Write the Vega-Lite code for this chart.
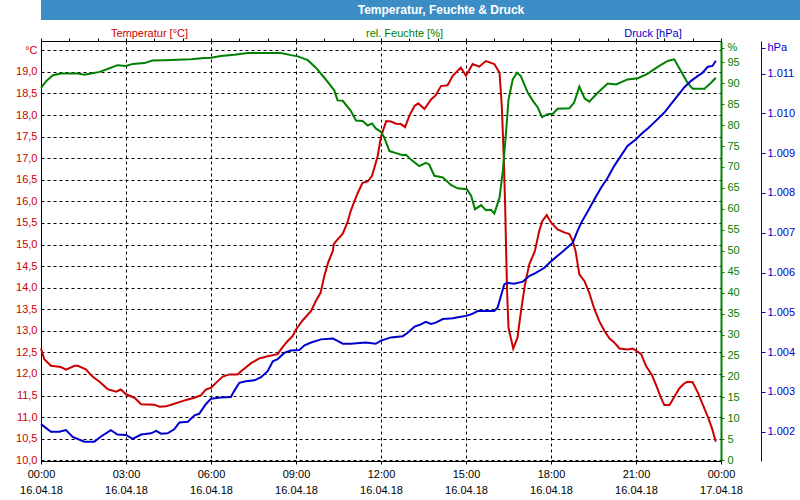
{
  "$schema": "https://vega.github.io/schema/vega-lite/v6.json",
  "padding": 0,
  "spacing": 6,
  "align": "none",
  "background": "white",
  "config": {
    "font": "Liberation Sans",
    "view": {"stroke": null}
  },
  "datasets": {
    "temp": [
      {"t": "2018-04-16T00:00", "v": 12.59}, {"t": "2018-04-16T00:07", "v": 12.34}, {"t": "2018-04-16T00:21", "v": 12.19},
      {"t": "2018-04-16T00:42", "v": 12.16}, {"t": "2018-04-16T00:53", "v": 12.10}, {"t": "2018-04-16T01:11", "v": 12.19},
      {"t": "2018-04-16T01:18", "v": 12.19}, {"t": "2018-04-16T01:35", "v": 12.11}, {"t": "2018-04-16T01:49", "v": 11.94},
      {"t": "2018-04-16T02:04", "v": 11.82}, {"t": "2018-04-16T02:21", "v": 11.65}, {"t": "2018-04-16T02:39", "v": 11.59},
      {"t": "2018-04-16T02:49", "v": 11.64}, {"t": "2018-04-16T03:00", "v": 11.53}, {"t": "2018-04-16T03:18", "v": 11.45},
      {"t": "2018-04-16T03:32", "v": 11.30}, {"t": "2018-04-16T04:00", "v": 11.29}, {"t": "2018-04-16T04:11", "v": 11.24},
      {"t": "2018-04-16T04:25", "v": 11.25}, {"t": "2018-04-16T04:39", "v": 11.30}, {"t": "2018-04-16T04:56", "v": 11.36},
      {"t": "2018-04-16T05:11", "v": 11.41}, {"t": "2018-04-16T05:25", "v": 11.45}, {"t": "2018-04-16T05:39", "v": 11.51},
      {"t": "2018-04-16T05:49", "v": 11.64}, {"t": "2018-04-16T06:00", "v": 11.68}, {"t": "2018-04-16T06:11", "v": 11.80},
      {"t": "2018-04-16T06:25", "v": 11.94}, {"t": "2018-04-16T06:39", "v": 11.99}, {"t": "2018-04-16T06:56", "v": 11.99},
      {"t": "2018-04-16T07:07", "v": 12.09}, {"t": "2018-04-16T07:25", "v": 12.25}, {"t": "2018-04-16T07:42", "v": 12.36},
      {"t": "2018-04-16T08:00", "v": 12.41}, {"t": "2018-04-16T08:21", "v": 12.46}, {"t": "2018-04-16T08:28", "v": 12.57},
      {"t": "2018-04-16T08:42", "v": 12.76}, {"t": "2018-04-16T08:53", "v": 12.88}, {"t": "2018-04-16T09:00", "v": 13.03},
      {"t": "2018-04-16T09:14", "v": 13.24}, {"t": "2018-04-16T09:32", "v": 13.46}, {"t": "2018-04-16T09:42", "v": 13.69},
      {"t": "2018-04-16T09:52", "v": 13.88}, {"t": "2018-04-16T10:00", "v": 14.27}, {"t": "2018-04-16T10:08", "v": 14.58},
      {"t": "2018-04-16T10:18", "v": 14.85}, {"t": "2018-04-16T10:20", "v": 15.01}, {"t": "2018-04-16T10:25", "v": 15.08},
      {"t": "2018-04-16T10:39", "v": 15.25}, {"t": "2018-04-16T10:49", "v": 15.51}, {"t": "2018-04-16T10:56", "v": 15.78},
      {"t": "2018-04-16T11:04", "v": 16.01}, {"t": "2018-04-16T11:11", "v": 16.20}, {"t": "2018-04-16T11:21", "v": 16.43},
      {"t": "2018-04-16T11:32", "v": 16.46}, {"t": "2018-04-16T11:41", "v": 16.59}, {"t": "2018-04-16T11:46", "v": 16.78},
      {"t": "2018-04-16T11:53", "v": 17.05}, {"t": "2018-04-16T12:00", "v": 17.50}, {"t": "2018-04-16T12:11", "v": 17.86},
      {"t": "2018-04-16T12:21", "v": 17.85}, {"t": "2018-04-16T12:32", "v": 17.80}, {"t": "2018-04-16T12:42", "v": 17.79},
      {"t": "2018-04-16T12:51", "v": 17.72}, {"t": "2018-04-16T13:00", "v": 17.98}, {"t": "2018-04-16T13:11", "v": 18.21},
      {"t": "2018-04-16T13:19", "v": 18.27}, {"t": "2018-04-16T13:32", "v": 18.14}, {"t": "2018-04-16T13:46", "v": 18.36},
      {"t": "2018-04-16T13:56", "v": 18.46}, {"t": "2018-04-16T14:07", "v": 18.67}, {"t": "2018-04-16T14:21", "v": 18.69},
      {"t": "2018-04-16T14:32", "v": 18.91}, {"t": "2018-04-16T14:49", "v": 19.10}, {"t": "2018-04-16T15:00", "v": 18.91},
      {"t": "2018-04-16T15:14", "v": 19.18}, {"t": "2018-04-16T15:28", "v": 19.12}, {"t": "2018-04-16T15:42", "v": 19.25},
      {"t": "2018-04-16T16:00", "v": 19.18}, {"t": "2018-04-16T16:11", "v": 18.98}, {"t": "2018-04-16T16:16", "v": 18.17},
      {"t": "2018-04-16T16:20", "v": 17.01}, {"t": "2018-04-16T16:23", "v": 15.86}, {"t": "2018-04-16T16:25", "v": 14.85},
      {"t": "2018-04-16T16:27", "v": 13.92}, {"t": "2018-04-16T16:30", "v": 13.07}, {"t": "2018-04-16T16:40", "v": 12.59},
      {"t": "2018-04-16T16:49", "v": 12.84}, {"t": "2018-04-16T16:56", "v": 13.42}, {"t": "2018-04-16T17:05", "v": 14.08},
      {"t": "2018-04-16T17:14", "v": 14.54}, {"t": "2018-04-16T17:26", "v": 14.85}, {"t": "2018-04-16T17:35", "v": 15.31},
      {"t": "2018-04-16T17:42", "v": 15.55}, {"t": "2018-04-16T17:51", "v": 15.68}, {"t": "2018-04-16T18:00", "v": 15.51},
      {"t": "2018-04-16T18:14", "v": 15.35}, {"t": "2018-04-16T18:28", "v": 15.28}, {"t": "2018-04-16T18:39", "v": 15.24},
      {"t": "2018-04-16T18:46", "v": 15.08}, {"t": "2018-04-16T18:52", "v": 14.85}, {"t": "2018-04-16T19:00", "v": 14.31},
      {"t": "2018-04-16T19:11", "v": 14.15}, {"t": "2018-04-16T19:21", "v": 13.88}, {"t": "2018-04-16T19:32", "v": 13.50},
      {"t": "2018-04-16T19:42", "v": 13.23}, {"t": "2018-04-16T19:53", "v": 13.00}, {"t": "2018-04-16T20:04", "v": 12.82},
      {"t": "2018-04-16T20:14", "v": 12.73}, {"t": "2018-04-16T20:25", "v": 12.59}, {"t": "2018-04-16T20:42", "v": 12.57},
      {"t": "2018-04-16T20:53", "v": 12.59}, {"t": "2018-04-16T21:11", "v": 12.46}, {"t": "2018-04-16T21:21", "v": 12.19},
      {"t": "2018-04-16T21:33", "v": 11.99}, {"t": "2018-04-16T21:42", "v": 11.76}, {"t": "2018-04-16T21:52", "v": 11.47},
      {"t": "2018-04-16T22:00", "v": 11.28}, {"t": "2018-04-16T22:11", "v": 11.28}, {"t": "2018-04-16T22:20", "v": 11.45},
      {"t": "2018-04-16T22:32", "v": 11.67}, {"t": "2018-04-16T22:42", "v": 11.78}, {"t": "2018-04-16T22:49", "v": 11.82},
      {"t": "2018-04-16T23:00", "v": 11.81}, {"t": "2018-04-16T23:11", "v": 11.57}, {"t": "2018-04-16T23:21", "v": 11.30},
      {"t": "2018-04-16T23:32", "v": 11.01}, {"t": "2018-04-16T23:41", "v": 10.74}, {"t": "2018-04-16T23:49", "v": 10.43}
    ],
    "hum": [
      {"t": "2018-04-16T00:00", "v": 88.9}, {"t": "2018-04-16T00:11", "v": 90.5}, {"t": "2018-04-16T00:25", "v": 91.9},
      {"t": "2018-04-16T00:42", "v": 92.3}, {"t": "2018-04-16T01:18", "v": 92.3}, {"t": "2018-04-16T01:32", "v": 92.0},
      {"t": "2018-04-16T01:46", "v": 92.3}, {"t": "2018-04-16T02:04", "v": 92.7}, {"t": "2018-04-16T02:21", "v": 93.4},
      {"t": "2018-04-16T02:42", "v": 94.3}, {"t": "2018-04-16T03:00", "v": 94.1}, {"t": "2018-04-16T03:14", "v": 94.6},
      {"t": "2018-04-16T03:39", "v": 94.8}, {"t": "2018-04-16T03:56", "v": 95.4}, {"t": "2018-04-16T04:21", "v": 95.5},
      {"t": "2018-04-16T05:18", "v": 95.7}, {"t": "2018-04-16T05:46", "v": 96.0}, {"t": "2018-04-16T06:00", "v": 96.1},
      {"t": "2018-04-16T06:21", "v": 96.5}, {"t": "2018-04-16T06:49", "v": 96.8}, {"t": "2018-04-16T07:18", "v": 97.2},
      {"t": "2018-04-16T08:28", "v": 97.2}, {"t": "2018-04-16T08:49", "v": 96.7}, {"t": "2018-04-16T09:04", "v": 96.4},
      {"t": "2018-04-16T09:25", "v": 95.5}, {"t": "2018-04-16T09:42", "v": 93.7}, {"t": "2018-04-16T10:00", "v": 91.3},
      {"t": "2018-04-16T10:21", "v": 88.3}, {"t": "2018-04-16T10:28", "v": 85.9}, {"t": "2018-04-16T10:39", "v": 85.8},
      {"t": "2018-04-16T10:56", "v": 83.4}, {"t": "2018-04-16T11:07", "v": 81.1}, {"t": "2018-04-16T11:21", "v": 81.0},
      {"t": "2018-04-16T11:32", "v": 79.9}, {"t": "2018-04-16T11:41", "v": 80.4}, {"t": "2018-04-16T11:49", "v": 79.2},
      {"t": "2018-04-16T12:00", "v": 78.4}, {"t": "2018-04-16T12:07", "v": 77.0}, {"t": "2018-04-16T12:18", "v": 73.8},
      {"t": "2018-04-16T12:32", "v": 73.3}, {"t": "2018-04-16T12:46", "v": 72.8}, {"t": "2018-04-16T12:53", "v": 72.9},
      {"t": "2018-04-16T13:04", "v": 71.7}, {"t": "2018-04-16T13:21", "v": 70.2}, {"t": "2018-04-16T13:35", "v": 71.0},
      {"t": "2018-04-16T13:42", "v": 70.6}, {"t": "2018-04-16T13:53", "v": 67.9}, {"t": "2018-04-16T14:11", "v": 67.5},
      {"t": "2018-04-16T14:28", "v": 65.7}, {"t": "2018-04-16T14:42", "v": 64.9}, {"t": "2018-04-16T15:02", "v": 64.7},
      {"t": "2018-04-16T15:11", "v": 63.1}, {"t": "2018-04-16T15:19", "v": 59.9}, {"t": "2018-04-16T15:32", "v": 60.9},
      {"t": "2018-04-16T15:42", "v": 59.7}, {"t": "2018-04-16T15:53", "v": 59.8}, {"t": "2018-04-16T16:00", "v": 58.9},
      {"t": "2018-04-16T16:11", "v": 62.7}, {"t": "2018-04-16T16:18", "v": 69.0}, {"t": "2018-04-16T16:25", "v": 78.6},
      {"t": "2018-04-16T16:30", "v": 86.1}, {"t": "2018-04-16T16:39", "v": 90.9}, {"t": "2018-04-16T16:48", "v": 92.5},
      {"t": "2018-04-16T16:56", "v": 91.7}, {"t": "2018-04-16T17:11", "v": 87.7}, {"t": "2018-04-16T17:21", "v": 85.9},
      {"t": "2018-04-16T17:32", "v": 84.2}, {"t": "2018-04-16T17:41", "v": 81.9}, {"t": "2018-04-16T17:53", "v": 82.6},
      {"t": "2018-04-16T18:04", "v": 82.7}, {"t": "2018-04-16T18:14", "v": 83.9}, {"t": "2018-04-16T18:39", "v": 84.0},
      {"t": "2018-04-16T18:49", "v": 85.4}, {"t": "2018-04-16T19:00", "v": 89.2}, {"t": "2018-04-16T19:11", "v": 86.4},
      {"t": "2018-04-16T19:21", "v": 85.6}, {"t": "2018-04-16T19:39", "v": 87.7}, {"t": "2018-04-16T20:00", "v": 89.9},
      {"t": "2018-04-16T20:18", "v": 89.7}, {"t": "2018-04-16T20:42", "v": 90.9}, {"t": "2018-04-16T21:04", "v": 91.2},
      {"t": "2018-04-16T21:25", "v": 92.3}, {"t": "2018-04-16T21:46", "v": 93.9}, {"t": "2018-04-16T22:07", "v": 95.3},
      {"t": "2018-04-16T22:21", "v": 95.7}, {"t": "2018-04-16T22:35", "v": 92.9}, {"t": "2018-04-16T22:49", "v": 90.1},
      {"t": "2018-04-16T23:00", "v": 88.7}, {"t": "2018-04-16T23:25", "v": 88.7}, {"t": "2018-04-16T23:39", "v": 90.1},
      {"t": "2018-04-16T23:49", "v": 91.3}
    ],
    "press": [
      {"t": "2018-04-16T00:00", "v": 1002.19}, {"t": "2018-04-16T00:21", "v": 1002.00}, {"t": "2018-04-16T00:39", "v": 1002.00},
      {"t": "2018-04-16T00:53", "v": 1002.04}, {"t": "2018-04-16T01:07", "v": 1001.87}, {"t": "2018-04-16T01:32", "v": 1001.75},
      {"t": "2018-04-16T01:53", "v": 1001.75}, {"t": "2018-04-16T02:07", "v": 1001.88}, {"t": "2018-04-16T02:28", "v": 1002.04},
      {"t": "2018-04-16T02:42", "v": 1001.93}, {"t": "2018-04-16T03:00", "v": 1001.92}, {"t": "2018-04-16T03:14", "v": 1001.82},
      {"t": "2018-04-16T03:32", "v": 1001.93}, {"t": "2018-04-16T03:53", "v": 1001.96}, {"t": "2018-04-16T04:04", "v": 1002.02},
      {"t": "2018-04-16T04:14", "v": 1001.95}, {"t": "2018-04-16T04:28", "v": 1001.96}, {"t": "2018-04-16T04:42", "v": 1002.06},
      {"t": "2018-04-16T04:53", "v": 1002.23}, {"t": "2018-04-16T05:11", "v": 1002.25}, {"t": "2018-04-16T05:25", "v": 1002.41},
      {"t": "2018-04-16T05:35", "v": 1002.45}, {"t": "2018-04-16T05:49", "v": 1002.69}, {"t": "2018-04-16T06:00", "v": 1002.83},
      {"t": "2018-04-16T06:21", "v": 1002.86}, {"t": "2018-04-16T06:42", "v": 1002.87}, {"t": "2018-04-16T06:49", "v": 1003.02},
      {"t": "2018-04-16T07:00", "v": 1003.23}, {"t": "2018-04-16T07:14", "v": 1003.27}, {"t": "2018-04-16T07:32", "v": 1003.29},
      {"t": "2018-04-16T07:46", "v": 1003.37}, {"t": "2018-04-16T08:00", "v": 1003.52}, {"t": "2018-04-16T08:11", "v": 1003.77},
      {"t": "2018-04-16T08:21", "v": 1003.82}, {"t": "2018-04-16T08:35", "v": 1003.98}, {"t": "2018-04-16T08:49", "v": 1004.04},
      {"t": "2018-04-16T09:07", "v": 1004.05}, {"t": "2018-04-16T09:18", "v": 1004.17}, {"t": "2018-04-16T09:32", "v": 1004.24},
      {"t": "2018-04-16T09:53", "v": 1004.32}, {"t": "2018-04-16T10:18", "v": 1004.34}, {"t": "2018-04-16T10:28", "v": 1004.28},
      {"t": "2018-04-16T10:39", "v": 1004.21}, {"t": "2018-04-16T10:56", "v": 1004.21}, {"t": "2018-04-16T11:28", "v": 1004.24},
      {"t": "2018-04-16T11:49", "v": 1004.21}, {"t": "2018-04-16T12:00", "v": 1004.29}, {"t": "2018-04-16T12:21", "v": 1004.37},
      {"t": "2018-04-16T12:46", "v": 1004.40}, {"t": "2018-04-16T12:56", "v": 1004.48}, {"t": "2018-04-16T13:11", "v": 1004.64},
      {"t": "2018-04-16T13:21", "v": 1004.68}, {"t": "2018-04-16T13:35", "v": 1004.76}, {"t": "2018-04-16T13:46", "v": 1004.71},
      {"t": "2018-04-16T13:56", "v": 1004.74}, {"t": "2018-04-16T14:11", "v": 1004.83}, {"t": "2018-04-16T14:32", "v": 1004.85},
      {"t": "2018-04-16T14:46", "v": 1004.88}, {"t": "2018-04-16T15:00", "v": 1004.91}, {"t": "2018-04-16T15:11", "v": 1004.95},
      {"t": "2018-04-16T15:25", "v": 1005.03}, {"t": "2018-04-16T16:00", "v": 1005.03}, {"t": "2018-04-16T16:07", "v": 1005.12},
      {"t": "2018-04-16T16:14", "v": 1005.41}, {"t": "2018-04-16T16:21", "v": 1005.70}, {"t": "2018-04-16T16:28", "v": 1005.74},
      {"t": "2018-04-16T16:42", "v": 1005.72}, {"t": "2018-04-16T17:00", "v": 1005.77}, {"t": "2018-04-16T17:14", "v": 1005.91},
      {"t": "2018-04-16T17:28", "v": 1005.99}, {"t": "2018-04-16T17:46", "v": 1006.12}, {"t": "2018-04-16T18:00", "v": 1006.28},
      {"t": "2018-04-16T18:25", "v": 1006.53}, {"t": "2018-04-16T18:46", "v": 1006.75}, {"t": "2018-04-16T18:56", "v": 1007.04},
      {"t": "2018-04-16T19:04", "v": 1007.25}, {"t": "2018-04-16T19:18", "v": 1007.54}, {"t": "2018-04-16T19:32", "v": 1007.84},
      {"t": "2018-04-16T19:46", "v": 1008.13}, {"t": "2018-04-16T20:00", "v": 1008.38}, {"t": "2018-04-16T20:14", "v": 1008.68},
      {"t": "2018-04-16T20:28", "v": 1008.93}, {"t": "2018-04-16T20:42", "v": 1009.18}, {"t": "2018-04-16T21:00", "v": 1009.35},
      {"t": "2018-04-16T21:14", "v": 1009.51}, {"t": "2018-04-16T21:25", "v": 1009.62}, {"t": "2018-04-16T21:42", "v": 1009.81},
      {"t": "2018-04-16T22:00", "v": 1010.02}, {"t": "2018-04-16T22:14", "v": 1010.23}, {"t": "2018-04-16T22:28", "v": 1010.44},
      {"t": "2018-04-16T22:42", "v": 1010.65}, {"t": "2018-04-16T22:56", "v": 1010.81}, {"t": "2018-04-16T23:11", "v": 1010.94},
      {"t": "2018-04-16T23:21", "v": 1011.02}, {"t": "2018-04-16T23:32", "v": 1011.17}, {"t": "2018-04-16T23:42", "v": 1011.19},
      {"t": "2018-04-16T23:49", "v": 1011.32}
    ]
  },
  "vconcat": [
    {
      "width": 800,
      "height": 20,
      "view": {"fill": "#3c8dc6", "stroke": null},
      "data": {"values": [{"title": "Temperatur, Feuchte & Druck"}]},
      "mark": {"type": "text", "color": "white", "fontWeight": "bold", "fontSize": 12, "font": "Liberation Sans"},
      "encoding": {"text": {"field": "title"}}
    },
    {
      "width": 680,
      "height": 420,
      "view": {"stroke": "black", "strokeWidth": 1},
      "layer": [
        {
          "data": {"name": "temp"},
          "mark": {"type": "line", "color": "#cc0000", "strokeWidth": 2},
          "encoding": {
            "x": {
              "field": "t",
              "type": "temporal",
              "scale": {"domain": [{"year": 2018, "month": 4, "date": 16, "hours": 0}, {"year": 2018, "month": 4, "date": 17, "hours": 0}], "nice": false},
              "axis": {
                "title": null,
                "tickCount": 8,
                "labelExpr": "[timeFormat(datum.value, '%H:%M'), timeFormat(datum.value, '%d.%m.%y')]",
                "labelOverlap": false,
                "labelFlush": false,
                "labelColor": "black",
                "labelFontSize": 11,
                "labelLineHeight": 16,
                "labelPadding": 4,
                "domainColor": "black",
                "tickColor": "black",
                "tickSize": 3,
                "grid": true,
                "gridColor": "black",
                "gridDash": [3, 3]
              }
            },
            "y": {
              "field": "v",
              "type": "quantitative",
              "scale": {"domain": [9.984, 19.715], "nice": false, "zero": false},
              "axis": {
                "orient": "left",
                "values": [10, 10.5, 11, 11.5, 12, 12.5, 13, 13.5, 14, 14.5, 15, 15.5, 16, 16.5, 17, 17.5, 18, 18.5, 19, 19.5],
                "format": ".1f",
                "labelExpr": "datum.value > 19.4 ? '°C' : replace(datum.label, '.', ',')",
                "labelColor": "#cc0000",
                "labelFontSize": 11,
                "labelPadding": 4,
                "tickSize": 0,
                "domainColor": "black",
                "minExtent": 40,
                "grid": true,
                "gridColor": "black",
                "gridDash": [3, 3],
                "title": "Temperatur [°C]",
                "titleAngle": 0,
                "titleX": 108,
                "titleY": -8,
                "titleAlign": "center",
                "titleBaseline": "middle",
                "titleColor": "#cc0000",
                "titleFontWeight": "normal",
                "titleFontSize": 11
              }
            }
          }
        },
        {
          "data": {"name": "hum"},
          "mark": {"type": "line", "color": "#008000", "strokeWidth": 2},
          "encoding": {
            "x": {
              "field": "t",
              "type": "temporal",
              "axis": {
                "title": null,
                "tickCount": 24,
                "labels": false,
                "domain": false,
                "grid": false,
                "tickColor": "black",
                "tickSize": 3
              }
            },
            "y": {
              "field": "v",
              "type": "quantitative",
              "scale": {"domain": [-0.17, 100.07], "nice": false, "zero": false},
              "axis": {
                "orient": "right",
                "values": [0, 5, 10, 15, 20, 25, 30, 35, 40, 45, 50, 55, 60, 65, 70, 75, 80, 85, 90, 95, 98.5],
                "format": "d",
                "labelExpr": "datum.value > 97 ? '%' : datum.label",
                "labelColor": "#008000",
                "labelFontSize": 11,
                "labelPadding": 3,
                "tickSize": 3,
                "tickColor": "#008000",
                "domainColor": "#008000",
                "domainWidth": 2,
                "grid": false,
                "title": "rel. Feuchte [%]",
                "titleAngle": 0,
                "titleX": -317,
                "titleY": -8,
                "titleAlign": "center",
                "titleBaseline": "middle",
                "titleColor": "#008000",
                "titleFontWeight": "normal",
                "titleFontSize": 11
              }
            }
          }
        },
        {
          "data": {"name": "press"},
          "mark": {"type": "line", "color": "#0000cc", "strokeWidth": 2},
          "encoding": {
            "x": {"field": "t", "type": "temporal", "axis": null},
            "y": {
              "field": "v",
              "type": "quantitative",
              "scale": {"domain": [1001.264, 1011.817], "nice": false, "zero": false},
              "axis": {
                "orient": "right",
                "offset": 40,
                "values": [1002, 1003, 1004, 1005, 1006, 1007, 1008, 1009, 1010, 1011, 1011.65],
                "format": ",d",
                "labelExpr": "datum.value > 1011.5 ? 'hPa' : replace(datum.label, ',', '.')",
                "labelColor": "#0000cc",
                "labelFontSize": 11,
                "labelPadding": 2,
                "tickSize": 4,
                "tickColor": "#0000cc",
                "domainColor": "#0000cc",
                "grid": false,
                "title": "Druck [hPa]",
                "titleAngle": 0,
                "titleX": -108.5,
                "titleY": -8,
                "titleAlign": "center",
                "titleBaseline": "middle",
                "titleColor": "#0000cc",
                "titleFontWeight": "normal",
                "titleFontSize": 11
              }
            }
          }
        }
      ],
      "resolve": {"scale": {"y": "independent"}, "axis": {"x": "independent"}}
    }
  ]
}
